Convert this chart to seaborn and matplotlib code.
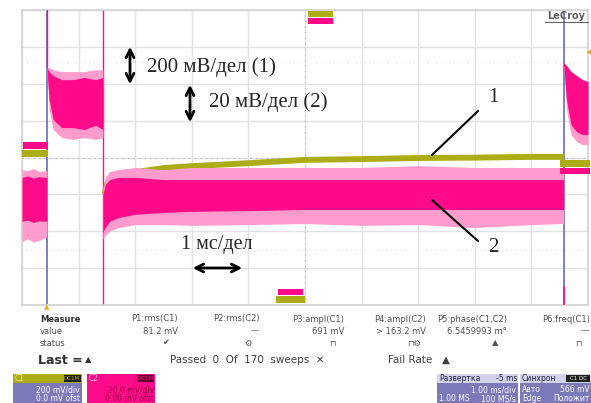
import numpy as np
import pandas as pd
import matplotlib
matplotlib.use("Agg")
import matplotlib.pyplot as plt
import matplotlib.patches as mpatches
import seaborn as sns

W, H = 591, 403

# time axis in ms (1 ms/div), vertical axis in divisions
# C2 (pink), left piece before first cursor
tA = [0.0, 0.1, 0.2, 0.3, 0.44]
pA_top = [-0.54, -0.50, -0.56, -0.52, -0.54]
pA_bot = [-1.73, -1.70, -1.76, -1.72, -1.73]
pA_spk_top = [-0.33, -0.36, -0.30, -0.38, -0.35]
pA_spk_bot = [-2.28, -2.20, -2.30, -2.25, -2.15]

# C2, piece between cursor and trigger line (shown high)
tB = [0.44, 0.48, 0.55, 0.7, 0.9, 1.1, 1.3, 1.43]
pB_top = [2.44, 2.33, 2.22, 2.11, 2.11, 2.17, 2.11, 2.17]
pB_bot = [2.38, 1.57, 1.03, 0.81, 0.81, 0.76, 0.87, 0.76]
pB_spk_top = [2.44, 2.44, 2.38, 2.33, 2.33, 2.33, 2.38, 2.38]
pB_spk_bot = [2.38, 1.30, 0.76, 0.54, 0.49, 0.54, 0.49, 0.54]

# C2, main piece after trigger
tC = [1.43, 1.47, 1.55, 1.7, 2.0, 2.5, 3, 4, 5, 6, 7, 8, 9, 9.57]
pC_top = [-1.00, -0.73, -0.60, -0.54, -0.54, -0.60, -0.60, -0.60, -0.60, -0.60, -0.60, -0.60, -0.60, -0.60]
pC_bot = [-2.03, -1.90, -1.73, -1.63, -1.54, -1.49, -1.46, -1.44, -1.41, -1.41, -1.41, -1.41, -1.41, -1.41]
pC_spk_top = [-0.87, -0.54, -0.38, -0.33, -0.27, -0.33, -0.27, -0.27, -0.27, -0.27, -0.22, -0.27, -0.27, -0.27]
pC_spk_bot = [-2.22, -2.11, -2.00, -1.90, -1.82, -1.82, -1.84, -1.82, -1.79, -1.84, -1.82, -1.90, -1.82, -1.79]

# C1 (olive), after trigger
c1 = [-0.95, -0.70, -0.54, -0.46, -0.38, -0.27, -0.22, -0.14, -0.05, -0.03, 0.0, 0.01, 0.03, 0.03]

# C2, piece after second cursor
tD = [9.57, 9.62, 9.7, 9.8, 9.9, 10.0]
pD_top = [2.57, 2.49, 2.33, 2.22, 2.11, 2.06]
pD_bot = [2.52, 1.57, 0.89, 0.70, 0.62, 0.62]
pD_spk_bot = [2.52, 1.30, 0.62, 0.43, 0.35, 0.35]

cursors = [0.44, 9.57]
trig_line = 1.43

measure_heads = ["P1:rms(C1)", "P2:rms(C2)", "P3:ampl(C1)", "P4:ampl(C2)", "P5:phase(C1,C2)", "P6:freq(C1)"]
measure_vals = ["81.2 mV", "---", "691 mV", "> 163.2 mV", "6.5459993 m°", "---"]
measure_stat = ["✔", "⚙", "⊓", "⊓⚙", "▲", "⊓"]
measure_x = [178, 260, 344, 426, 507, 590]

PINK = "#ff0a88"
PINK_L = "#ff9ccd"
OLIVE = "#acac14"
BLUE = "#6a6ab4"
PURPLE = "#7c79b9"

sns.set_theme(style="white")
plt.rcParams['font.family'] = ['DejaVu Sans']

fig = plt.figure(figsize=(W / 100, H / 100), dpi=100)
fig.patch.set_facecolor("white")


def fx(px):
    return px / W


def fy(py):
    return 1 - py / H


ax = fig.add_axes([fx(22), fy(305), (588 - 22) / W, (305 - 10) / H])
ax.set_xlim(0, 10)
ax.set_ylim(-4, 4)
ax.set_xticks(range(11))
ax.set_yticks(range(-4, 5))
ax.set_xticklabels([])
ax.set_yticklabels([])
ax.tick_params(length=0)
ax.grid(True, color="#e2e2e2", lw=1)
for s in ax.spines.values():
    s.set_color("#d4d4d4")
ax.axhline(0, color="#b0b0b0", lw=0.8, ls=(0, (1, 4)))
ax.axvline(5, color="#b0b0b0", lw=0.8, ls=(0, (1, 4)))
ax.axhline(2.6, color="#e8e8e8", lw=0.8, ls=(0, (1, 3)))
ax.axhline(-2.5, color="#e8e8e8", lw=0.8, ls=(0, (1, 3)))

# cursors and trigger line
for c in cursors:
    ax.axvline(c, color=BLUE, lw=1.2, zorder=2)
ax.axvline(trig_line, color=PINK, lw=1.0, zorder=2)
ax.plot([cursors[0], cursors[0]], [pB_top[0], 4], color=PINK, lw=1.0, zorder=3)
ax.plot([cursors[1], cursors[1]], [-3.5, -4], color=PINK, lw=1.2, zorder=3)

# olive trace
df1 = pd.DataFrame({"t": tC, "v": c1})
ax.fill_between(tC, np.array(c1) - 0.08, np.array(c1) + 0.08, color=OLIVE, lw=0, zorder=4)
sns.lineplot(data=df1, x="t", y="v", color=OLIVE, lw=1.5, ax=ax, zorder=4)

# pink bands
for t, a, b in [(tA, pA_spk_top, pA_spk_bot), (tB, pB_spk_top, pB_spk_bot),
                (tC, pC_spk_top, pC_spk_bot), (tD, pD_top, pD_spk_bot)]:
    ax.fill_between(t, a, b, color=PINK_L, lw=0, zorder=5)
for t, a, b in [(tA, pA_top, pA_bot), (tB, pB_top, pB_bot),
                (tC, pC_top, pC_bot), (tD, pD_top, pD_bot)]:
    ax.fill_between(t, a, b, color=PINK, lw=0, zorder=6)
ax.set_xlabel("")
ax.set_ylabel("")


def box(x0, y0, x1, y1, color, **kw):
    r = mpatches.Rectangle((fx(x0), fy(y1)), (x1 - x0) / W, (y1 - y0) / H,
                           transform=fig.transFigure, facecolor=color, edgecolor="none", **kw)
    fig.add_artist(r)


# channel tags on the grid
box(308, 11, 333, 17, OLIVE, zorder=10)
box(308, 18, 333, 24, PINK, zorder=10)
box(23, 142, 48, 149, PINK, zorder=10)
box(22, 150, 48, 157, OLIVE, zorder=10)
box(560, 160, 590, 167, OLIVE, zorder=10)
box(560, 168, 590, 174, PINK, zorder=10)
box(278, 289, 303, 295, PINK, zorder=10)
box(276, 296, 305, 303, OLIVE, zorder=10)
fig.text(fx(47), fy(307), "▲", color="#e0b020", fontsize=5, ha="center", va="center")
fig.text(fx(589), fy(52), "◀", color="#e0b020", fontsize=5, ha="center", va="center")

# LeCroy logo
fig.text(fx(566), fy(16), "LeCroy", color="#606060", fontsize=7, ha="center", va="center", weight="bold")
fig.add_artist(plt.Line2D([fx(545), fx(588)], [fy(22), fy(22)], color="#606060", lw=0.8))

# annotations
serif = ["Liberation Serif", "DejaVu Serif"]
ax_ann = dict(arrowstyle="<->", color="black", lw=2, mutation_scale=14)
fig.add_artist(mpatches.FancyArrowPatch((fx(130), fy(44)), (fx(130), fy(87)), transform=fig.transFigure, **ax_ann))
fig.add_artist(mpatches.FancyArrowPatch((fx(190), fy(82)), (fx(190), fy(125)), transform=fig.transFigure, **ax_ann))
fig.add_artist(mpatches.FancyArrowPatch((fx(190), fy(268)), (fx(245), fy(268)), transform=fig.transFigure, **ax_ann))
fig.text(fx(147), fy(67), "200 мВ/дел (1)", family=serif, fontsize=15, va="center")
fig.text(fx(209), fy(102), "20 мВ/дел (2)", family=serif, fontsize=15, va="center")
fig.text(fx(181), fy(244), "1 мс/дел", family=serif, fontsize=14.5, va="center")
fig.text(fx(493), fy(97), "1", family=serif, fontsize=15, va="center", ha="center")
fig.text(fx(493), fy(247), "2", family=serif, fontsize=15, va="center", ha="center")
fig.add_artist(plt.Line2D([fx(432), fx(478)], [fy(155), fy(111)], color="black", lw=1.5))
fig.add_artist(plt.Line2D([fx(432), fx(478)], [fy(200), fy(241)], color="black", lw=1.5))

# measurement table
g = "#505050"
fig.text(fx(40), fy(319), "Measure", fontsize=6, weight="bold", color="#303030", va="center")
fig.text(fx(40), fy(331), "value", fontsize=6, color=g, va="center")
fig.text(fx(40), fy(343), "status", fontsize=6, color=g, va="center")
for x, h, v, s in zip(measure_x, measure_heads, measure_vals, measure_stat):
    fig.text(fx(x), fy(319), h, fontsize=6, color=g, ha="right", va="center")
    fig.text(fx(x), fy(331), v, fontsize=6, color=g, ha="right", va="center")
    fig.text(fx(x - 12), fy(343), s, fontsize=6, color=g, ha="center", va="center")

fig.text(fx(38), fy(360), "Last =", fontsize=9, weight="bold", color="#303030", va="center")
fig.text(fx(85), fy(360), "▲", fontsize=6, color="#303030", va="center")
fig.text(fx(170), fy(360), "Passed  0  Of  170  sweeps  ✕", fontsize=7.5, color="#404040", va="center")
fig.text(fx(388), fy(360), "Fail Rate   ▲", fontsize=7.5, color="#404040", va="center")

# channel descriptor boxes
box(13, 374, 82, 403, PURPLE)
box(13, 374, 82, 383, OLIVE)
box(64, 375, 81, 382, "#202020")
fig.text(fx(15), fy(378.5), "C1", fontsize=5.5, color="#f0f0a0", va="center")
fig.text(fx(72), fy(378.5), "DC1M", fontsize=4, color=OLIVE, va="center", ha="center")
fig.text(fx(80), fy(390), "200 mV/div", fontsize=5.5, color="white", va="center", ha="right")
fig.text(fx(80), fy(398.5), "0.0 mV ofst", fontsize=5.5, color="white", va="center", ha="right")

box(87, 374, 155, 403, PINK)
box(137, 375, 154, 382, "#6a0030")
fig.text(fx(89), fy(378.5), "C2", fontsize=5.5, color="#ffb0d8", va="center")
fig.text(fx(145.5), fy(378.5), "DC1M", fontsize=4, color=PINK, va="center", ha="center")
fig.text(fx(154), fy(390), "20.0 mV/div", fontsize=5.5, color="#8a0040", va="center", ha="right")
fig.text(fx(154), fy(398.5), "0.00 mV ofst", fontsize=5.5, color="#8a0040", va="center", ha="right")

box(437, 374, 518, 403, PURPLE)
box(437, 374, 518, 383, "#d4d2ea")
fig.text(fx(439), fy(378.5), "Развертка", fontsize=5.5, color="#202040", va="center")
fig.text(fx(517), fy(378.5), "-5 ms", fontsize=5.5, color="#202040", va="center", ha="right")
fig.text(fx(516), fy(390), "1.00 ms/div", fontsize=5.5, color="white", va="center", ha="right")
fig.text(fx(439), fy(398.5), "1.00 MS", fontsize=5.5, color="white", va="center")
fig.text(fx(516), fy(398.5), "100 MS/s", fontsize=5.5, color="white", va="center", ha="right")

box(520, 374, 591, 403, PURPLE)
box(520, 374, 591, 383, "#d4d2ea")
box(566, 375, 590, 382, "#202020")
fig.text(fx(522), fy(378.5), "Синхрон", fontsize=5.5, color="#202040", va="center")
fig.text(fx(578), fy(378.5), "C1 DC", fontsize=4, color="white", va="center", ha="center")
fig.text(fx(522), fy(390), "Авто", fontsize=5.5, color="white", va="center")
fig.text(fx(590), fy(390), "566 mV", fontsize=5.5, color="white", va="center", ha="right")
fig.text(fx(522), fy(398.5), "Edge", fontsize=5.5, color="white", va="center")
fig.text(fx(590), fy(398.5), "Положит", fontsize=5.5, color="white", va="center", ha="right")

fig.savefig("out.png", dpi=100)
